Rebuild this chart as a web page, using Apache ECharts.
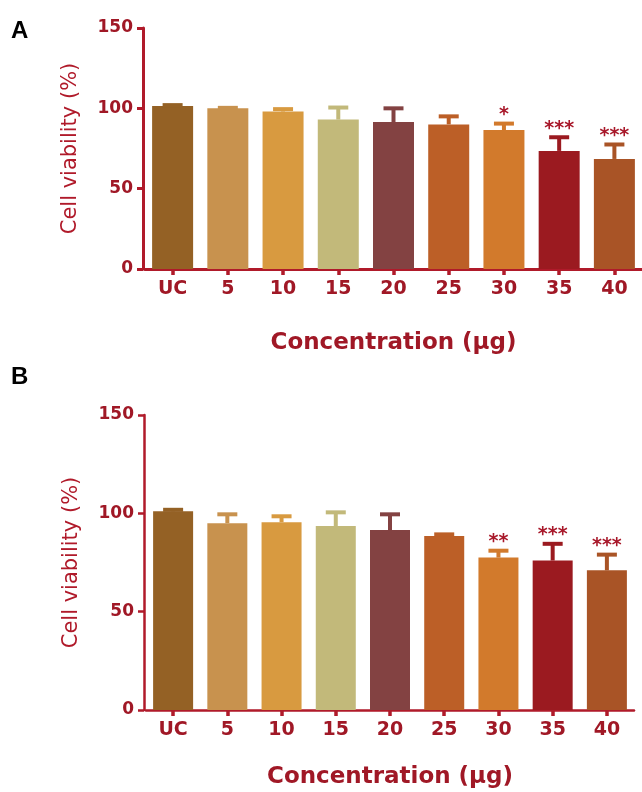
<!DOCTYPE html>
<html>
<head>
<meta charset="utf-8">
<script src="https://cdn.jsdelivr.net/npm/echarts@6/dist/echarts.min.js"></script>
<style>
html,body{margin:0;padding:0;background:#fff;}
#chart{width:642px;height:792px;}
</style>
</head>
<body>
<div id="chart"></div>
<script>
// ---- data ----
var categories = ['UC', '5', '10', '15', '20', '25', '30', '35', '40'];
var meanA = [101.5, 100, 98, 93, 91.5, 90, 86.5, 73.5, 68.5];
var errA  = [0.5, 0.3, 1.5, 7.5, 8.5, 5, 4, 8.5, 9];
var sigA  = ['', '', '', '', '', '', '*', '***', '***'];
var meanB = [101, 95, 95.5, 93.5, 91.5, 88.5, 77.5, 76, 71];
var errB  = [0.8, 4.5, 3, 7, 8, 0.8, 3.5, 8.5, 8];
var sigB  = ['', '', '', '', '', '', '**', '***', '***'];
var yTicks = [0, 50, 100, 150];
var barColors = ['#946125', '#c8924e', '#d89a40', '#c2b97a', '#834242', '#bc5f27', '#d27a2c', '#9b1a20', '#a95426'];

var AXIS = '#b01a2a';
var LABEL = '#a01826';

function barData(vals) {
  return vals.map(function (v, i) { return { value: v, itemStyle: { color: barColors[i] } }; });
}
function errData(vals, errs, sigs) {
  return vals.map(function (v, i) { return [i, v, errs[i], sigs[i]]; });
}
var errSets = { 1: errData(meanA, errA, sigA), 3: errData(meanB, errB, sigB) };
function errRender(params, api) {
  var i = api.value(0), v = api.value(1), e = api.value(2);
  var s = errSets[params.seriesIndex][params.dataIndex][3];
  var p0 = api.coord([i, v]);
  var p1 = api.coord([i, v + e]);
  var col = barColors[i];
  var half = 10;
  var children = [
    { type: 'line', shape: { x1: p0[0], y1: p0[1], x2: p1[0], y2: p1[1] }, style: { stroke: col, lineWidth: 4 } },
    { type: 'line', shape: { x1: p1[0] - half, y1: p1[1], x2: p1[0] + half, y2: p1[1] }, style: { stroke: col, lineWidth: 4 } }
  ];
  if (s) {
    children.push({
      type: 'text',
      style: { text: s, x: p1[0], y: p1[1] + 1, align: 'center', verticalAlign: 'bottom',
        fill: '#a8182a', font: 'bold 19px "DejaVu Sans"' }
    });
  }
  return { type: 'group', children: children };
}

function yAxisCfg(gridIndex, lw) {
  return {
    type: 'value', gridIndex: gridIndex, min: 0, max: 150, interval: 50, offset: 2,
    name: 'Cell viability (%)', nameLocation: 'middle', nameGap: 62, nameRotate: 90,
    nameTextStyle: { color: AXIS, fontFamily: 'DejaVu Sans', fontSize: 21, fontWeight: 'normal' },
    axisLine: { show: true, lineStyle: { color: AXIS, width: lw } },
    axisTick: { show: true, length: 6, lineStyle: { color: AXIS, width: lw } },
    axisLabel: { color: LABEL, fontFamily: 'DejaVu Sans', fontWeight: 'bold', fontSize: 17, margin: 10,
      formatter: function (v) { return yTicks.indexOf(v) >= 0 ? String(v) : ''; } },
    splitLine: { show: false }
  };
}
function xAxisCfg(gridIndex, lw, gap) {
  return {
    type: 'category', gridIndex: gridIndex, data: categories,
    name: 'Concentration (\u03bcg)', nameLocation: 'middle', nameGap: gap,
    nameTextStyle: { color: LABEL, fontFamily: 'DejaVu Sans', fontWeight: 'bold', fontSize: 23 },
    axisLine: { show: true, lineStyle: { color: AXIS, width: lw } },
    axisTick: { show: true, alignWithLabel: true, length: 6, lineStyle: { color: AXIS, width: 3.5 } },
    axisLabel: { color: LABEL, fontFamily: 'DejaVu Sans', fontWeight: 'bold', fontSize: 19, margin: 11 },
    splitLine: { show: false }
  };
}

var chart = echarts.init(document.getElementById('chart'), null, { renderer: 'canvas' });
chart.setOption({
  backgroundColor: '#ffffff',
  animation: false,
  grid: [
    { left: 145, top: 28, width: 497, height: 241 },
    { left: 146, top: 415, width: 488, height: 295 }
  ],
  xAxis: [xAxisCfg(0, 3, 63), xAxisCfg(1, 2.5, 56)],
  yAxis: [yAxisCfg(0, 3), yAxisCfg(1, 2.5)],
  graphic: [
    { type: 'text', left: 11, top: 19, style: { text: 'A', fill: '#000', font: 'bold 24px "Liberation Sans"' } },
    { type: 'text', left: 11, top: 365, style: { text: 'B', fill: '#000', font: 'bold 24px "Liberation Sans"' } }
  ],
  series: [
    { type: 'bar', xAxisIndex: 0, yAxisIndex: 0, data: barData(meanA), barWidth: 41, z: 2 },
    { type: 'custom', xAxisIndex: 0, yAxisIndex: 0, data: errSets[1], renderItem: errRender, z: 3 },
    { type: 'bar', xAxisIndex: 1, yAxisIndex: 1, data: barData(meanB), barWidth: 40, z: 2 },
    { type: 'custom', xAxisIndex: 1, yAxisIndex: 1, data: errSets[3], renderItem: errRender, z: 3 }
  ]
});
</script>
</body>
</html>
